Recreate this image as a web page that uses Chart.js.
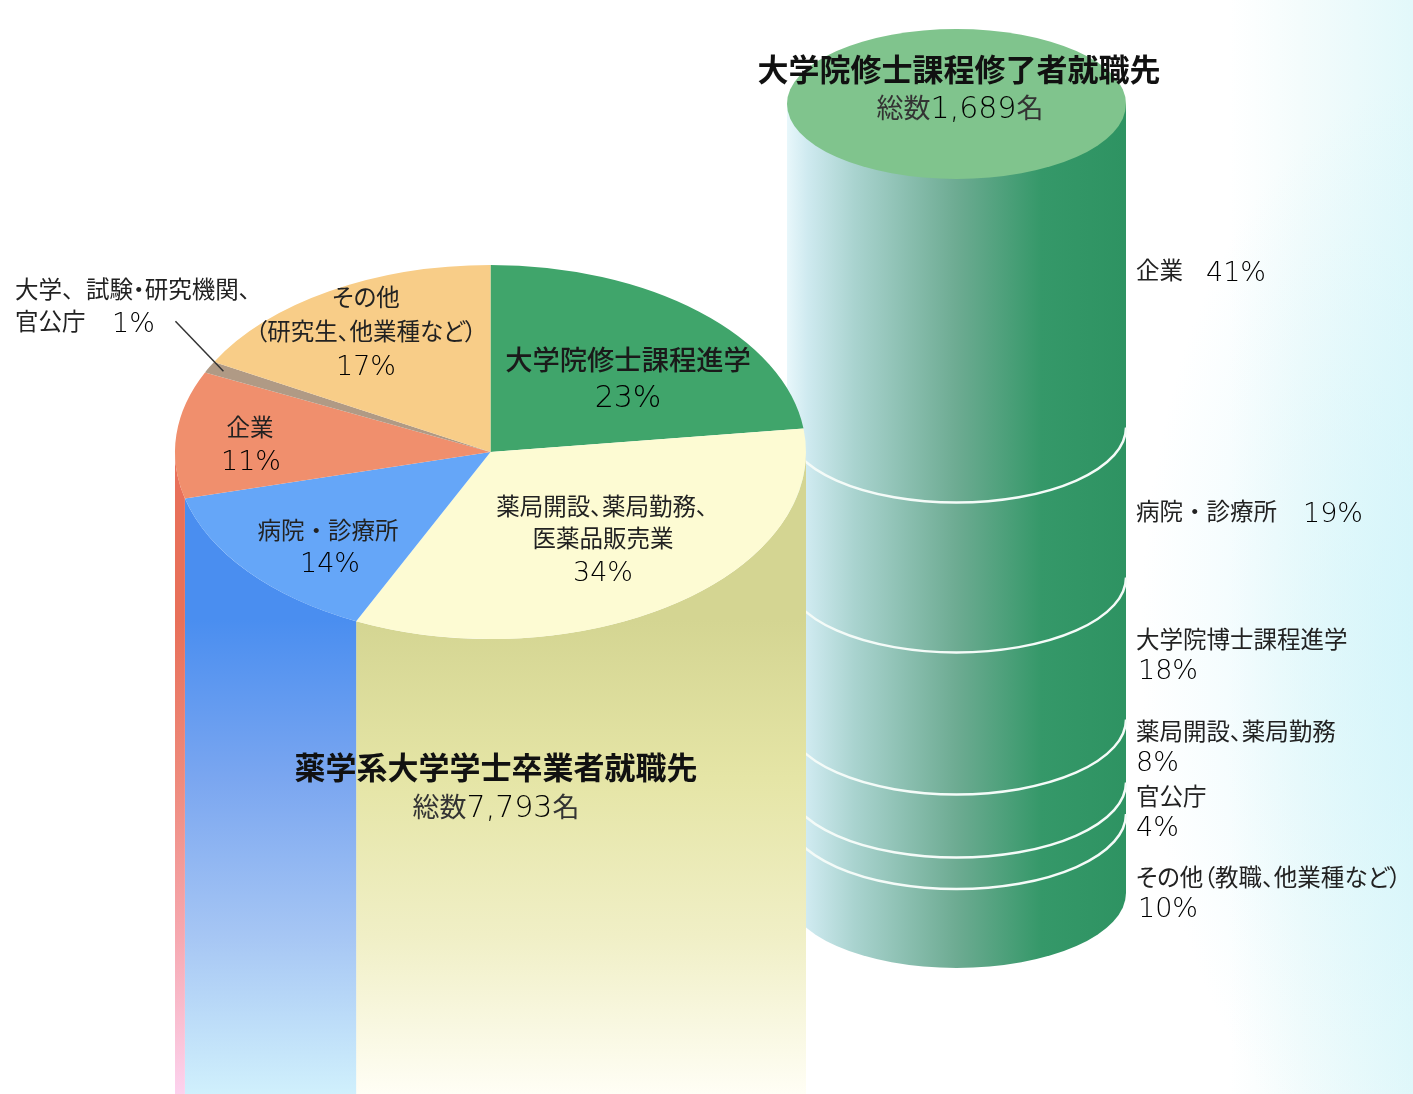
<!DOCTYPE html>
<html lang="ja">
<head>
<meta charset="utf-8">
<script src="https://cdn.jsdelivr.net/npm/chart.js@4"></script>
<style>
html, body { margin: 0; padding: 0; }
body {
    width: 1413px; height: 1094px; position: relative; overflow: hidden;
    background:
        radial-gradient(ellipse 300px 560px at 1440px 640px, rgba(205,243,250,0.7) 0%, rgba(205,243,250,0.32) 55%, rgba(205,243,250,0) 100%),
        linear-gradient(to right, #fff 87%, #f4fcfc 92%, #e2f8fa 100%);
    font-family: "DejaVu Sans", "Noto Sans CJK JP", sans-serif;
    font-feature-settings: "palt";
    color: #222;
}
canvas { position: absolute; left: 0; top: 0; }
.t { position: absolute; font-size: 23.5px; line-height: 1; white-space: pre; transform: translateY(calc(-50% + 1px)); }
.c { transform: translate(-50%, calc(-50% + 1px)); text-align: center; }
.n { font-size: 27px; font-weight: 300; color: #000; }
.wide { font-feature-settings: normal; }
.big { font-size: 27.3px; font-weight: 500; color: #1a1a1a; }
.big .n, .total .n { font-size: 30px; }
.title { font-size: 31px; font-weight: 700; color: #111; font-family: "Noto Sans CJK JP", sans-serif; }
.total { font-size: 27px; color: #333; }
</style>
</head>
<body>
<canvas id="cylChart" width="1413" height="1094"></canvas>
<canvas id="pieChart" width="1413" height="1094"></canvas>
<script>
const pieCats = ['大学院修士課程進学', '薬局開設、薬局勤務、医薬品販売業', '病院・診療所', '企業', '大学、試験・研究機関、官公庁', 'その他（研究生、他業種など）'];
const pieVals = [23, 34, 14, 11, 1, 17];
const pieFace = ['#40a56b', '#fdfbd3', '#65a6f8', '#f08f6d', '#b09a85', '#f8cd88'];

const cylCats = ['企業', '病院・診療所', '大学院博士課程進学', '薬局開設、薬局勤務', '官公庁', 'その他（教職、他業種など）'];
const cylVals = [41, 19, 18, 8, 4, 10];

const bachelorTitle = '薬学系大学学士卒業者就職先';
const bachelorTotal = '総数7,793名';
const masterTitle = '大学院修士課程修了者就職先';
const masterTotal = '総数1,689名';

// side wall colours of the big cylinder, top to bottom
const sideStops = {
    1: ['#d4d592', '#e5e5a6', '#f0efc6', '#fffef5'],
    2: ['#4a8ef0', '#7aa6f0', '#a6c6f4', '#d0f0fc'],
    3: ['#e8705a', '#ee8a7c', '#f6a8b0', '#fcd2ee']
};

const ratio = 187 / 315.5;   // flattening of the top ellipses

// squash the pie into an ellipse and extrude the front slices down the page
const pieDepth = {
    id: 'pieDepth',
    beforeDatasetsDraw(chart) {
        const ctx = chart.ctx;
        const arcs = chart.getDatasetMeta(0).data;
        const cx = arcs[0].x, cy = arcs[0].y, r = arcs[0].outerRadius;
        arcs.forEach((arc, i) => {
            const a0 = Math.max(arc.startAngle, 0);
            const a1 = Math.min(arc.endAngle, Math.PI);
            if (a1 <= a0) return;
            const g = ctx.createLinearGradient(0, 620, 0, chart.height);
            sideStops[i].forEach((c, k) => g.addColorStop(k / 3, c));
            ctx.beginPath();
            ctx.ellipse(cx, cy, r, r * ratio, 0, a0, a1);
            ctx.lineTo(cx + r * Math.cos(a1), chart.height);
            ctx.lineTo(cx + r * Math.cos(a0), chart.height);
            ctx.closePath();
            ctx.fillStyle = g;
            ctx.fill();
        });
        ctx.save();
        ctx.translate(0, cy);
        ctx.scale(1, ratio);
        ctx.translate(0, -cy);
    },
    afterDatasetsDraw(chart) {
        const ctx = chart.ctx;
        ctx.restore();
        // leader line to the 1% slice
        const arc = chart.getDatasetMeta(0).data[4];
        const a = (arc.startAngle + arc.endAngle) / 2;
        const ex = arc.x + arc.outerRadius * 0.95 * Math.cos(a);
        const ey = arc.y + arc.outerRadius * 0.95 * ratio * Math.sin(a);
        ctx.beginPath();
        ctx.moveTo(ex, ey);
        ctx.lineTo(ex - 48, ey - 50);
        ctx.strokeStyle = '#333';
        ctx.lineWidth = 1.5;
        ctx.stroke();
    }
};

new Chart(document.getElementById('pieChart'), {
    type: 'pie',
    data: {
        labels: pieCats,
        datasets: [{ data: pieVals, backgroundColor: pieFace, borderWidth: 0 }]
    },
    options: {
        responsive: false,
        animation: false,
        layout: { padding: { left: 175, right: 607, top: 136.5, bottom: 326.5 } },
        plugins: { legend: { display: false }, tooltip: { enabled: false } }
    },
    plugins: [pieDepth]
});

function cylGradient(ctx, area) {
    const g = ctx.createLinearGradient(area.left, 0, area.right, 0);
    g.addColorStop(0, '#e8f7fb');
    g.addColorStop(0.06, '#cfeaf0');
    g.addColorStop(0.2, '#a9d3cf');
    g.addColorStop(0.5, '#6dab92');
    g.addColorStop(0.75, '#359869');
    g.addColorStop(1, '#2e9362');
    return g;
}

// round the small cylinder: bottom curve, top ellipse, white rings
const cylDepth = {
    id: 'cylDepth',
    beforeDatasetsDraw(chart) {
        const { ctx, chartArea: area, scales } = chart;
        const cx = (area.left + area.right) / 2, rx = (area.right - area.left) / 2;
        ctx.beginPath();
        ctx.ellipse(cx, scales.y.getPixelForValue(100), rx, 75, 0, 0, Math.PI);
        ctx.fillStyle = cylGradient(ctx, area);
        ctx.fill();
    },
    afterDatasetsDraw(chart) {
        const { ctx, chartArea: area, scales } = chart;
        const cx = (area.left + area.right) / 2, rx = (area.right - area.left) / 2;
        let sum = 0;
        ctx.strokeStyle = '#f4fbf8';
        ctx.lineWidth = 2.5;
        cylVals.slice(0, -1).forEach(val => {
            sum += val;
            ctx.beginPath();
            ctx.ellipse(cx, scales.y.getPixelForValue(sum), rx, 75, 0, 0, Math.PI);
            ctx.stroke();
        });
        ctx.beginPath();
        ctx.ellipse(cx, scales.y.getPixelForValue(0), rx, 75, 0, 0, Math.PI * 2);
        ctx.fillStyle = '#80c48d';
        ctx.fill();
    }
};

new Chart(document.getElementById('cylChart'), {
    type: 'bar',
    data: {
        labels: [''],
        datasets: cylVals.map((v, i) => ({
            label: cylCats[i],
            data: [v],
            backgroundColor: c => c.chart.chartArea ? cylGradient(c.chart.ctx, c.chart.chartArea) : '#6dab92',
            borderWidth: 0,
            inflateAmount: 1,
            categoryPercentage: 1,
            barPercentage: 1
        }))
    },
    options: {
        responsive: false,
        animation: false,
        layout: { padding: { left: 787, right: 287, top: 104, bottom: 201 } },
        scales: {
            x: { display: false, stacked: true },
            y: { display: false, stacked: true, reverse: true, min: 0, max: 100 }
        },
        plugins: { legend: { display: false }, tooltip: { enabled: false } }
    },
    plugins: [cylDepth]
});

// text overlay, digits get the wider latin face
function put(text, x, y, cls) {
    const el = document.createElement('div');
    el.className = 't ' + (cls || '');
    text.split(/([\d,%]+)/).forEach(part => {
        if (!part) return;
        if (/^[\d,%]+$/.test(part)) {
            const s = document.createElement('span');
            s.className = 'n';
            s.textContent = part;
            el.appendChild(s);
        } else {
            el.appendChild(document.createTextNode(part));
        }
    });
    el.style.left = x + 'px';
    el.style.top = y + 'px';
    document.body.appendChild(el);
}
const pct = v => v + '%';

put('大学、', 15, 290, 'wide');
put('試験・研究機関、', 86, 290);
put('官公庁', 15, 322);
put(pct(pieVals[4]), 112, 322);
put('その他', 366, 298, 'c');
put('（研究生、他業種など）', 366, 332, 'c');
put(pct(pieVals[5]), 366, 365, 'c');
put(pieCats[0], 628, 360, 'c big');
put(pct(pieVals[0]), 628, 396, 'c big');
put('薬局開設、薬局勤務、', 602, 507, 'c');
put('医薬品販売業', 603, 539, 'c');
put(pct(pieVals[1]), 603, 571, 'c');
put(pieCats[3], 250, 428, 'c');
put(pct(pieVals[3]), 251, 460, 'c');
put(pieCats[2], 328, 531, 'c wide');
put(pct(pieVals[2]), 330, 562, 'c');
put(bachelorTitle, 496, 764, 'c title');
put(bachelorTotal, 496, 806, 'c total');
put(masterTitle, 959, 66, 'c title');
put(masterTotal, 960, 107, 'c total');

put(cylCats[0], 1136, 271);
put(pct(cylVals[0]), 1206, 271);
put(cylCats[1], 1136, 512, 'wide');
put(pct(cylVals[1]), 1303, 512);
put(cylCats[2], 1136, 640);
put(pct(cylVals[2]), 1138, 669);
put(cylCats[3], 1136, 732);
put(pct(cylVals[3]), 1136, 761);
put(cylCats[4], 1136, 797);
put(pct(cylVals[4]), 1136, 826);
put(cylCats[5], 1136, 878);
put(pct(cylVals[5]), 1138, 907);
</script>
</body>
</html>
